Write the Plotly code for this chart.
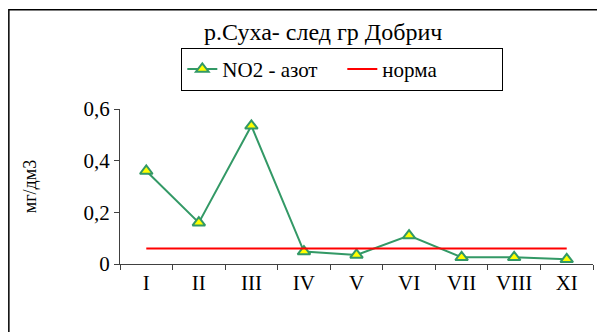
import plotly.graph_objects as go

months = ['I', 'II', 'III', 'IV', 'V', 'VI', 'VII', 'VIII', 'XI']
no2 = [0.36, 0.16, 0.535, 0.048, 0.035, 0.11, 0.026, 0.026, 0.018]
norma = [0.06] * len(months)

# the page body adds an 8px margin, so the figure is 8px smaller
FONT = 'Liberation Serif, Times New Roman, serif'

fig = go.Figure(data=[
    go.Scatter(name='NO2 - азот', x=months, y=no2, mode='lines+markers',
               line=dict(color='#339966', width=2),
               marker=dict(symbol='triangle-up', size=11, color='#FFFF00',
                           line=dict(color='#339966', width=2))),
    go.Scatter(name='норма', x=months, y=norma, mode='lines',
               line=dict(color='#FF0000', width=2)),
])

fig.update_layout(
    width=597, height=324,
    margin=dict(l=112, r=12, t=101, b=68),
    paper_bgcolor='white', plot_bgcolor='white',
    separators=', ',
    font=dict(family=FONT, size=21, color='black'),
    title=dict(text='р.Суха- след гр Добрич', x=0.528, xanchor='center',
               y=0.926, yanchor='middle', font=dict(family=FONT, size=24)),
    legend=dict(orientation='h', x=0.47, xanchor='center', y=1.395, yanchor='top',
                bordercolor='black', borderwidth=1, bgcolor='white',
                entrywidth=115, entrywidthmode='pixels',
                font=dict(family=FONT, size=21)),
    shapes=[dict(type='rect', xref='paper', yref='paper',
                 x0=-0.235, x1=1.1, y0=-0.6, y1=1.64,
                 line=dict(color='black', width=1.5), layer='below')],
)
fig.update_xaxes(type='category', range=[-0.5, 8.5], showline=True, linecolor='#404040',
                 linewidth=1, ticks='outside', tickson='boundaries', ticklen=5,
                 tickcolor='#404040', showgrid=False, zeroline=False,
                 tickfont=dict(family=FONT, size=21))
fig.update_yaxes(range=[0, 0.6], dtick=0.2, showline=True, linecolor='#404040',
                 linewidth=1, ticks='outside', ticklen=5, tickcolor='#404040',
                 showgrid=False, zeroline=False, tickfont=dict(family=FONT, size=21),
                 title=dict(text='мг/дм3', standoff=42, font=dict(family=FONT, size=18)))

fig.write_html('out.html')
